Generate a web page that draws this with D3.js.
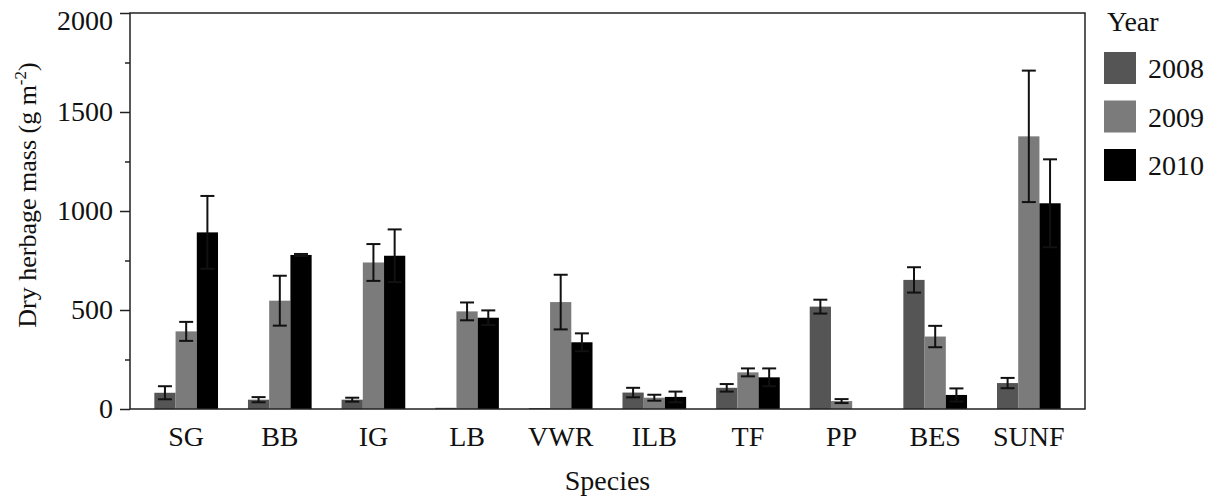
<!DOCTYPE html>
<html>
<head>
<meta charset="utf-8">
<script src="https://cdn.jsdelivr.net/npm/d3@7"></script>
<style>
    body { margin: 0; background: #fff; }
    svg text { font-family: "Liberation Serif", "DejaVu Serif", serif; fill: #111; }
</style>
</head>
<body>
<div id="chart"></div>
<script>
// 数据
var species = ['SG', 'BB', 'IG', 'LB', 'VWR', 'ILB', 'TF', 'PP', 'BES', 'SUNF'];
var years = ['2008', '2009', '2010'];
var mass2008 = [82, 47, 47, 6, 5, 83, 107, 517, 652, 131];
var mass2009 = [392, 547, 740, 493, 540, 57, 185, 40, 366, 1377];
var mass2010 = [892, 778, 774, 461, 337, 61, 160, 0, 71, 1039];
var err2008 = [33, 13, 10, 0, 0, 24, 19, 35, 64, 26];
var err2009 = [48, 126, 93, 45, 138, 15, 20, 10, 54, 332];
var err2010 = [184, 5, 133, 37, 45, 27, 45, 0, 33, 222];
var yTicks = [0, 500, 1000, 1500, 2000];
var yMinorTicks = [250, 750, 1250, 1750];
var yearColors = ['#555555', '#7b7b7b', '#000000'];

var width = 1219, height = 500;
var padding = {left: 130, right: 134, top: 13, bottom: 91};
var serif = '"Liberation Serif", "DejaVu Serif", serif';

var svg = d3.select('#chart').append('svg')
    .attr('width', width)
    .attr('height', height);

var means = [mass2008, mass2009, mass2010];
var errs = [err2008, err2009, err2010];

// 展开成每个柱子一条记录
var rows = [];
species.forEach(function (s, i) {
    years.forEach(function (yr, j) {
        rows.push({species: s, year: yr, idx: j, value: means[j][i], err: errs[j][i]});
    });
});

var x0 = d3.scaleBand()
    .domain(species)
    .range([padding.left, width - padding.right])
    .paddingInner(0.32)
    .paddingOuter(0.26);

var x1 = d3.scaleBand()
    .domain(years)
    .range([0, x0.bandwidth()]);

var y = d3.scaleLinear()
    .domain([0, 2000])
    .range([height - padding.bottom, padding.top]);

var color = d3.scaleOrdinal().domain(years).range(yearColors);

// 柱子
svg.append('g')
    .selectAll('rect')
    .data(rows)
    .enter()
    .append('rect')
    .attr('x', function (d) { return x0(d.species) + x1(d.year); })
    .attr('y', function (d) { return y(d.value); })
    .attr('width', x1.bandwidth())
    .attr('height', function (d) { return y(0) - y(d.value); })
    .attr('fill', function (d) { return color(d.year); });

// 误差线
var capW = 7;
var eb = svg.append('g')
    .attr('stroke', '#111')
    .attr('stroke-width', 2)
    .selectAll('g')
    .data(rows.filter(function (d) { return d.err > 0; }))
    .enter()
    .append('g');

eb.append('line')
    .attr('x1', function (d) { return x0(d.species) + x1(d.year) + x1.bandwidth() / 2; })
    .attr('x2', function (d) { return x0(d.species) + x1(d.year) + x1.bandwidth() / 2; })
    .attr('y1', function (d) { return y(d.value - d.err); })
    .attr('y2', function (d) { return y(d.value + d.err); });

[1, -1].forEach(function (sign) {
    eb.append('line')
        .attr('x1', function (d) { return x0(d.species) + x1(d.year) + x1.bandwidth() / 2 - capW; })
        .attr('x2', function (d) { return x0(d.species) + x1(d.year) + x1.bandwidth() / 2 + capW; })
        .attr('y1', function (d) { return y(d.value + sign * d.err); })
        .attr('y2', function (d) { return y(d.value + sign * d.err); });
});

// 坐标轴
var yAxis = svg.append('g')
    .attr('transform', 'translate(' + padding.left + ',0)')
    .call(d3.axisLeft(y).tickValues(yTicks).tickSize(10).tickPadding(7).tickFormat(d3.format('d')));

svg.append('g')
    .attr('transform', 'translate(' + padding.left + ',0)')
    .call(d3.axisLeft(y).tickValues(yMinorTicks).tickSize(5).tickFormat(''))
    .select('.domain').remove();

// 顶部标签下移，避免被裁掉
yAxis.selectAll('text')
    .style('font-family', serif)
    .style('font-size', '28px')
    .attr('dy', function (d) { return d === 2000 ? '0.6em' : '0.32em'; });

var xAxis = svg.append('g')
    .attr('transform', 'translate(0,' + y(0) + ')')
    .call(d3.axisBottom(x0).tickSize(0).tickPadding(17));

xAxis.select('.domain').remove();
xAxis.selectAll('text')
    .style('font-family', serif)
    .style('font-size', '28px');

svg.selectAll('.tick line').attr('stroke', '#222').attr('stroke-width', 1.5);
yAxis.select('.domain').remove();

// 边框
svg.append('rect')
    .attr('x', padding.left)
    .attr('y', padding.top)
    .attr('width', width - padding.left - padding.right)
    .attr('height', y(0) - padding.top)
    .attr('fill', 'none')
    .attr('stroke', '#222')
    .attr('stroke-width', 1.5);

// 坐标标题
svg.append('text')
    .attr('x', (padding.left + width - padding.right) / 2)
    .attr('y', 490)
    .attr('text-anchor', 'middle')
    .style('font-size', '28px')
    .text('Species');

var yTitle = svg.append('text')
    .attr('transform', 'translate(36,' + 195 + ') rotate(-90)')
    .attr('text-anchor', 'middle')
    .style('font-size', '26px');
yTitle.append('tspan').text('Dry herbage mass (g m');
yTitle.append('tspan').attr('dy', -10).style('font-size', '17px').text('-2');
yTitle.append('tspan').attr('dy', 10).text(')');

// 图例
var legend = svg.append('g');
legend.append('text')
    .attr('x', 1107)
    .attr('y', 31)
    .style('font-size', '28px')
    .text('Year');

var item = legend.selectAll('.item')
    .data(years)
    .enter()
    .append('g')
    .attr('class', 'item')
    .attr('transform', function (d, i) { return 'translate(1104,' + (52 + i * 48.5) + ')'; });

item.append('rect')
    .attr('width', 32)
    .attr('height', 32)
    .attr('fill', function (d) { return color(d); });

item.append('text')
    .attr('x', 44)
    .attr('y', 26)
    .style('font-size', '28px')
    .text(function (d) { return d; });
</script>
</body>
</html>
